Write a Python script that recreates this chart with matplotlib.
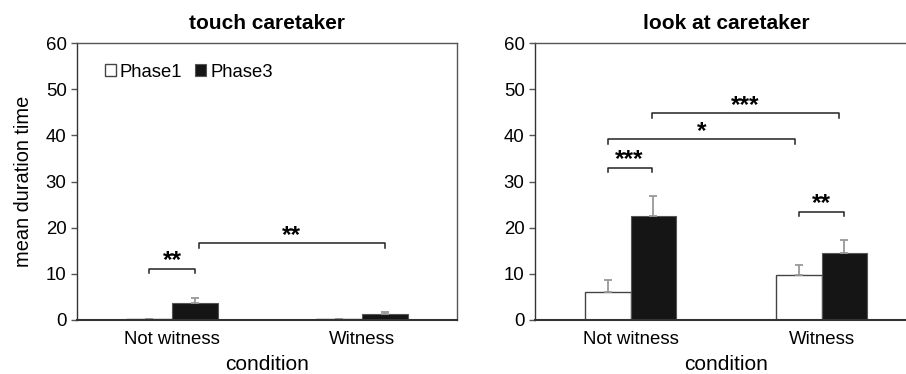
import numpy as np
import matplotlib
matplotlib.use('Agg')
import matplotlib.pyplot as plt

plt.rcParams['font.family'] = ['Liberation Sans', 'DejaVu Sans']

# data
conditions = ['Not witness', 'Witness']
series = ['Phase1', 'Phase3']

touch_p1 = [0.2, 0.2]
touch_p3 = [3.6, 1.2]
touch_p1_err = [0.0, 0.0]
touch_p3_err = [1.1, 0.5]

look_p1 = [6.1, 9.7]
look_p3 = [22.6, 14.6]
look_p1_err = [2.6, 2.3]
look_p3_err = [4.3, 2.7]

# brackets: (x1, x2, y, label)
touch_sig = [(-0.12, 0.12, 11.1, '**'), (0.14, 1.12, 16.7, '**')]
look_sig = [(-0.12, 0.11, 33.0, '***'), (-0.12, 0.86, 39.2, '*'),
            (0.11, 1.09, 44.8, '***'), (0.88, 1.12, 23.5, '**')]

W = 0.24
EDGE = '#444444'
SPINE = '#555555'


def draw(ax, p1, p3, e1, e3, sig, title):
    x = np.arange(len(conditions))
    b1 = ax.bar(x - W / 2, p1, W, color='white', edgecolor=EDGE, linewidth=1.0,
                yerr=[np.zeros(len(e1)), e1], ecolor='#999999',
                error_kw=dict(elinewidth=1.3, capsize=3, capthick=1.3), zorder=2)
    b3 = ax.bar(x + W / 2, p3, W, color='#151515', edgecolor='#555555', linewidth=0.8,
                yerr=[np.zeros(len(e3)), e3], ecolor='#999999',
                error_kw=dict(elinewidth=1.3, capsize=3, capthick=1.3), zorder=2)
    for x1, x2, y, lab in sig:
        ax.plot([x1, x1, x2, x2], [y - 1.0, y, y, y - 1.0], color='#222222', lw=1.1)
        ax.text((x1 + x2) / 2, y - 0.8, lab, ha='center', va='bottom', fontsize=17.5,
                fontweight='bold')
    ax.set_xlim(-0.5, 1.5)
    ax.set_ylim(0, 60)
    ax.set_yticks(range(0, 61, 10))
    ax.set_xticks(x)
    ax.set_xticklabels(conditions)
    ax.tick_params(axis='x', length=0, labelsize=13.4, pad=8)
    ax.tick_params(axis='y', length=4, labelsize=13.4, color=SPINE, width=1)
    for s in ax.spines.values():
        s.set_color(SPINE)
        s.set_linewidth(1.0)
    ax.spines['left'].set_color('#333333')
    ax.spines['bottom'].set_color('#333333')
    ax.spines['bottom'].set_linewidth(1.5)
    ax.set_xlabel('condition', fontsize=15, labelpad=5)
    ax.set_title(title, fontsize=15, fontweight='bold', pad=10)
    return b1, b3


fig = plt.figure(figsize=(9.06, 3.74), dpi=100)
ax1 = fig.add_axes([77 / 906, 54 / 374, 380 / 906, 277 / 374])
ax2 = fig.add_axes([535 / 906, 54 / 374, 382 / 906, 277 / 374])

b1, b3 = draw(ax1, touch_p1, touch_p3, touch_p1_err, touch_p3_err, touch_sig, 'touch caretaker')
draw(ax2, look_p1, look_p3, look_p1_err, look_p3_err, look_sig, 'look at caretaker')

ax1.set_ylabel('mean duration time', fontsize=14.4, labelpad=9)
ax1.legend([b1, b3], series, loc='upper left', bbox_to_anchor=(0.03, 0.985), ncol=2,
           frameon=False, fontsize=13.3, handlelength=0.6, handleheight=0.6,
           handletextpad=0.2, columnspacing=0.7)

fig.savefig('out.png', dpi=100)
